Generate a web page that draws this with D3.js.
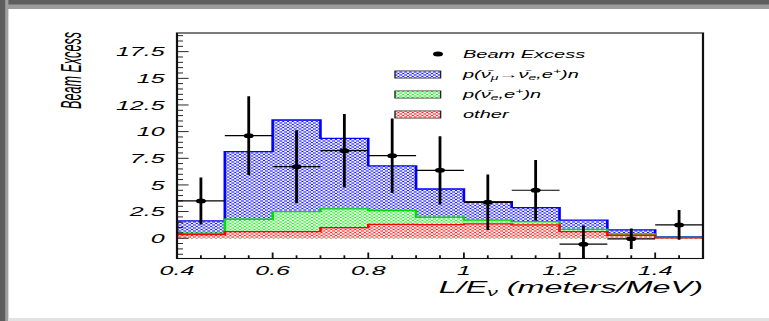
<!DOCTYPE html>
<html>
<head>
<meta charset="utf-8">
<script src="https://cdn.jsdelivr.net/npm/d3@7"></script>
<style>
  html, body { margin: 0; padding: 0; background: #fff; overflow: hidden; }
  svg { display: block; }
  text { font-family: "Liberation Sans", Arial, Helvetica, sans-serif; font-style: italic; fill: #000; }
</style>
</head>
<body>
<script>
// Bin edges in L/E (meters/MeV)
const binEdges = [0.4, 0.5, 0.6, 0.7, 0.8, 0.9, 1.0, 1.1, 1.2, 1.3, 1.4, 1.5];

// Stacked expectations per bin
const otherBkg  = [0.35, 0.62, 0.62, 1.00, 1.31, 1.28, 1.34, 1.25, 0.62, 0.28, 0.04];
const nuebarBkg = [0.12, 1.16, 1.88, 1.75, 1.29, 0.69, 0.36, 0.31, 0.22, 0.12, 0.03];
const oscSignal = [1.15, 6.34, 8.59, 6.62, 4.18, 2.65, 1.73, 1.31, 0.85, 0.38, 0.05];

// Measured beam excess with statistical errors
const beamExcess = [3.50, 9.62, 6.71, 8.21, 7.74, 6.37, 3.37, 4.50, -0.56, -0.05, 1.25];
const excessErr  = [2.20, 3.70, 3.43, 3.45, 3.50, 3.20, 2.60, 2.85, 1.75, 0.97, 1.40];

// Axis tick labels
const xTickLabels = ["0.4", "0.6", "0.8", "1", "1.2", "1.4"];
const yTickLabels = ["0", "2.5", "5", "7.5", "10", "12.5", "15", "17.5"];

// Drawing is done in a half-width coordinate system that is stretched 2x horizontally
const SX = 2;
const W = 769 / SX, H = 321;
const frame = { left: 88.5, right: 351.5, top: 33, bottom: 258.5 };

const svg = d3.select("body").append("svg")
  .attr("width", 769).attr("height", 321)
  .attr("viewBox", `0 0 ${W} ${H}`)
  .attr("preserveAspectRatio", "none");

const defs = svg.append("defs");

// Window border
svg.append("rect").attr("x", 0).attr("y", 0).attr("width", W).attr("height", H).attr("fill", "#fff");
svg.append("rect").attr("x", 0).attr("y", 0).attr("width", W).attr("height", 9).attr("fill", "#9c9c9c");
svg.append("rect").attr("x", 0).attr("y", 0).attr("width", W).attr("height", 4.5).attr("fill", "#5e5e5e");
svg.append("rect").attr("x", 0).attr("y", 0).attr("width", 4.2).attr("height", H).attr("fill", "#a0a0a0");
svg.append("rect").attr("x", 0).attr("y", 0).attr("width", 2.6).attr("height", H).attr("fill", "#5e5e5e");
svg.append("rect").attr("x", 4.2).attr("y", 318).attr("width", W).attr("height", 3).attr("fill", "#e2e2e2");

// Hatched fills
function hatch(id, color) {
  const p = defs.append("pattern").attr("id", id)
    .attr("patternUnits", "userSpaceOnUse")
    .attr("width", 2.4).attr("height", 3.0);
  p.append("rect").attr("width", 2.4).attr("height", 3.0).attr("fill", color);
  [[0, 0], [2.4, 0], [0, 3], [2.4, 3], [1.2, 1.5]].forEach(([cx, cy]) =>
    p.append("ellipse").attr("cx", cx).attr("cy", cy).attr("rx", 0.72).attr("ry", 0.95).attr("fill", "#fff"));
  return `url(#${id})`;
}
const fills = {
  osc: hatch("hOsc", "#1a1aff"),
  nue: hatch("hNue", "#22ee22"),
  other: hatch("hOther", "#ff2020")
};
const lines = { osc: "#0000ff", nue: "#00dd00", other: "#ff0000" };

const x = d3.scaleLinear().domain([0.4, 1.5]).range([frame.left, frame.right]);
const y = d3.scaleLinear().domain([-1.9, 19.25]).range([frame.bottom, frame.top]);

defs.append("clipPath").attr("id", "plotClip").append("rect")
  .attr("x", frame.left).attr("y", frame.top)
  .attr("width", frame.right - frame.left).attr("height", frame.bottom - frame.top);

// Stack the three components
const rows = otherBkg.map((_, i) => ({ other: otherBkg[i], nue: nuebarBkg[i], osc: oscSignal[i] }));
const stacked = d3.stack().keys(["other", "nue", "osc"])(rows);

const plot = svg.append("g").attr("clip-path", "url(#plotClip)");
const line = d3.line().x(d => x(d[0])).y(d => y(d[1]));

function stepPoints(tops) {
  const pts = [[binEdges[0], 0]];
  tops.forEach((t, i) => { pts.push([binEdges[i], t]); pts.push([binEdges[i + 1], t]); });
  pts.push([binEdges[binEdges.length - 1], 0]);
  return pts;
}

// Draw cumulative histograms from largest to smallest
["osc", "nue", "other"].forEach(key => {
  const s = stacked.find(d => d.key === key);
  const pts = stepPoints(s.map(d => d[1]));
  plot.append("path").attr("d", line(pts) + "Z").attr("fill", fills[key]).attr("stroke", "none");
  plot.append("path").attr("d", line(pts)).attr("fill", "none")
    .attr("stroke", lines[key]).attr("stroke-width", 1.3);
});

// Frame
const axes = svg.append("g");
axes.append("rect")
  .attr("x", frame.left).attr("y", frame.top)
  .attr("width", frame.right - frame.left).attr("height", frame.bottom - frame.top)
  .attr("fill", "none").attr("stroke", "#111").attr("stroke-width", 1.1);

// Y ticks
const yMinor = d3.range(-1.5, 19.01, 0.5);
yMinor.forEach(v => {
  const major = Math.abs(v / 2.5 - Math.round(v / 2.5)) < 1e-6;
  axes.append("line")
    .attr("x1", frame.left).attr("x2", frame.left + (major ? 5.8 : 3.0))
    .attr("y1", y(v)).attr("y2", y(v))
    .attr("stroke", "#111").attr("stroke-width", 0.9);
});
yTickLabels.forEach(t => {
  axes.append("text").attr("x", frame.left - 6.2).attr("y", y(+t) + 4.6)
    .attr("text-anchor", "end").attr("font-size", 12.5).text(t);
});

// X ticks
d3.range(0.4, 1.5001, 0.05).forEach(v => {
  const major = Math.abs(v / 0.2 - Math.round(v / 0.2)) < 1e-6;
  const len = major ? 6 : 3.2;
  axes.append("line")
    .attr("x1", x(v)).attr("x2", x(v))
    .attr("y1", frame.bottom).attr("y2", frame.bottom - len)
    .attr("stroke", "#111").attr("stroke-width", 0.9);
});
xTickLabels.forEach(t => {
  axes.append("text").attr("x", x(+t)).attr("y", 275.5)
    .attr("text-anchor", "middle").attr("font-size", 12.5).text(t);
});

// Axis titles
const xt = axes.append("text").attr("x", frame.right).attr("y", 293.5)
  .attr("text-anchor", "end").attr("font-size", 16.2);
xt.append("tspan").text("L/E");
xt.append("tspan").attr("font-size", 10.5).attr("dy", 3).text("ν");
xt.append("tspan").attr("dy", -3).text(" (meters/MeV)");

axes.append("text")
  .attr("transform", `translate(40.5,32) rotate(-90)`)
  .attr("text-anchor", "end").attr("font-size", 15)
  .attr("textLength", 77).attr("lengthAdjust", "spacingAndGlyphs")
  .text("Beam Excess");

// Data points with error bars
const pts = svg.append("g").attr("clip-path", "url(#plotClip)");
beamExcess.forEach((v, i) => {
  const x0 = binEdges[i], x1 = binEdges[i + 1], xc = (x0 + x1) / 2;
  pts.append("line").attr("x1", x(x0)).attr("x2", x(x1)).attr("y1", y(v)).attr("y2", y(v))
    .attr("stroke", "#000").attr("stroke-width", 1.2);
  pts.append("line").attr("x1", x(xc)).attr("x2", x(xc))
    .attr("y1", y(v - excessErr[i])).attr("y2", y(v + excessErr[i]))
    .attr("stroke", "#000").attr("stroke-width", 1.4);
  pts.append("circle").attr("cx", x(xc)).attr("cy", y(v)).attr("r", 2.5).attr("fill", "#000");
});

// Legend
const leg = svg.append("g");
leg.append("circle").attr("cx", 219).attr("cy", 54).attr("r", 2.5).attr("fill", "#000");
leg.append("text").attr("x", 231.5).attr("y", 57.6).attr("font-size", 10).text("Beam Excess");

const legRows = [
  { key: "osc", y: 74.5 },
  { key: "nue", y: 94.5 },
  { key: "other", y: 114.5 }
];
legRows.forEach(r => {
  leg.append("rect").attr("x", 197.5).attr("y", r.y - 3.6).attr("width", 22.8).attr("height", 7.2)
    .attr("fill", fills[r.key]).attr("stroke", "#222").attr("stroke-width", 0.7);
});

const t1 = leg.append("text").attr("x", 231.5).attr("y", 74.5 + 3.6).attr("font-size", 10);
t1.append("tspan").text("p(ν\u0304");
t1.append("tspan").attr("font-size", 7).attr("dy", 2).text("μ");
t1.append("tspan").attr("dy", -2).text("→ν\u0304");
t1.append("tspan").attr("font-size", 7).attr("dy", 2).text("e");
t1.append("tspan").attr("dy", -2).text(",e");
t1.append("tspan").attr("font-size", 7).attr("dy", -4).text("+");
t1.append("tspan").attr("dy", 4).text(")n");

const t2 = leg.append("text").attr("x", 231.5).attr("y", 94.5 + 3.6).attr("font-size", 10);
t2.append("tspan").text("p(ν\u0304");
t2.append("tspan").attr("font-size", 7).attr("dy", 2).text("e");
t2.append("tspan").attr("dy", -2).text(",e");
t2.append("tspan").attr("font-size", 7).attr("dy", -4).text("+");
t2.append("tspan").attr("dy", 4).text(")n");

leg.append("text").attr("x", 231.5).attr("y", 114.5 + 3.6).attr("font-size", 10).text("other");
</script>
</body>
</html>
